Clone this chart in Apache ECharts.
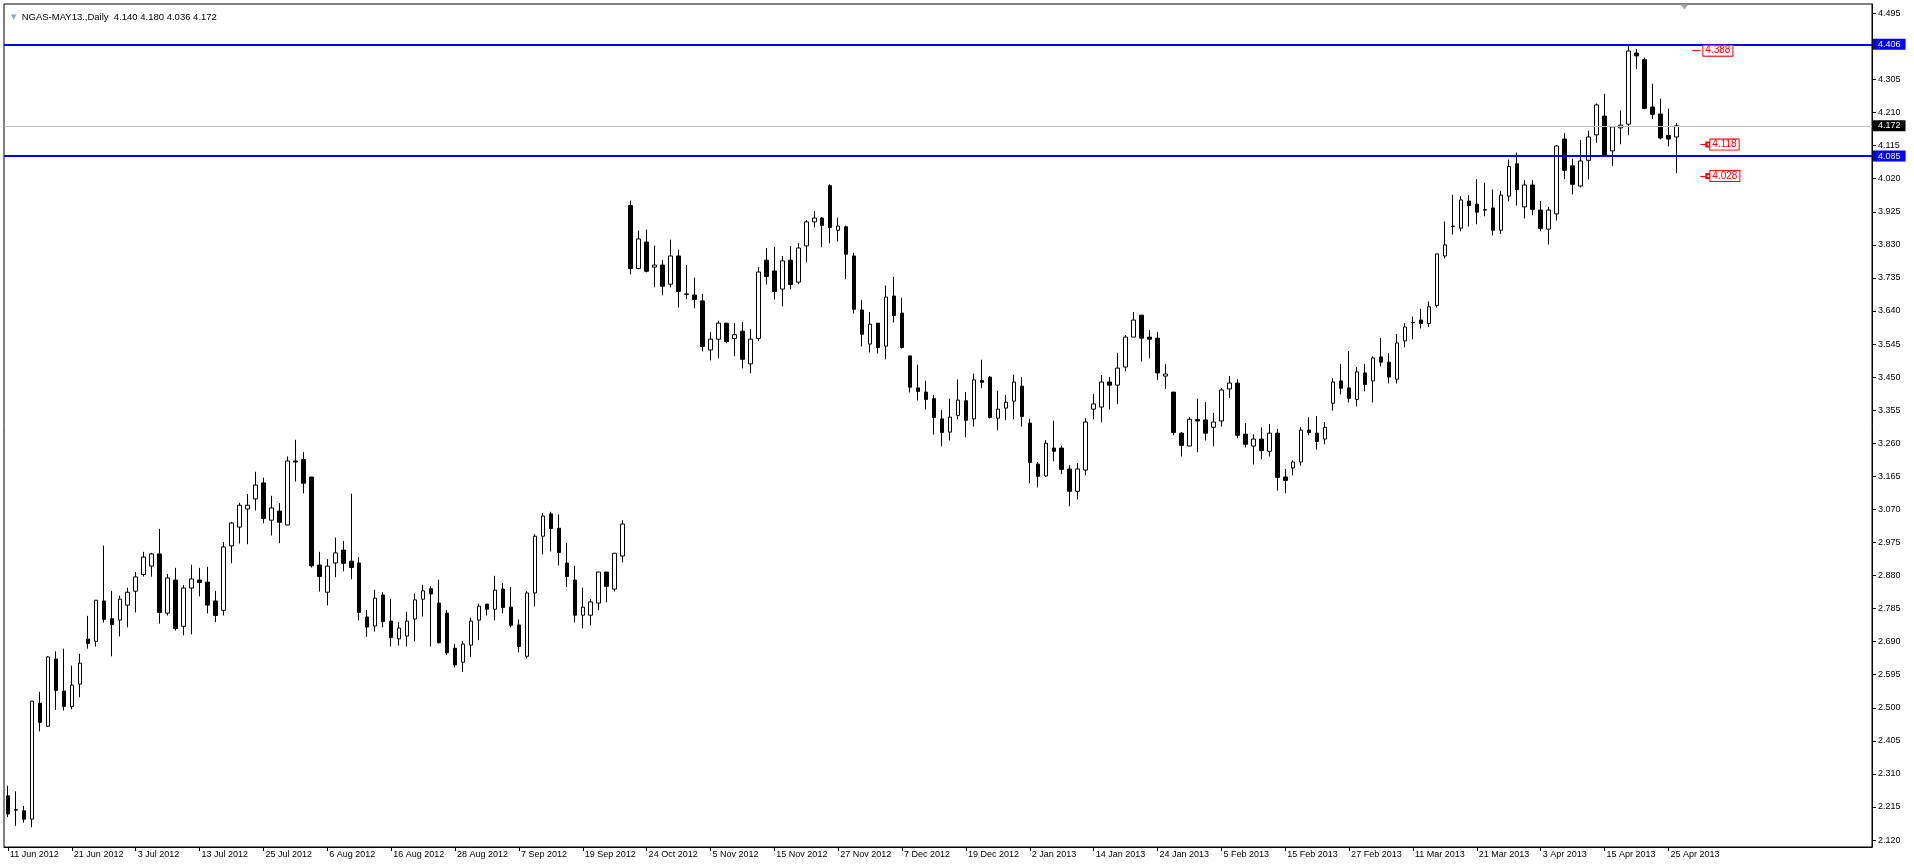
<!DOCTYPE html>
<html><head><meta charset="utf-8">
<script src="https://cdn.jsdelivr.net/npm/echarts@6/dist/echarts.min.js"></script>
<style>html,body{margin:0;padding:0;background:#fff;overflow:hidden}#c{width:1914px;height:867px}</style>
</head><body><div id="c"></div>
<script>
const symbolName = 'NGAS-MAY13.,Daily';
const dateLabels = ['11 Jun 2012','21 Jun 2012','3 Jul 2012','13 Jul 2012','25 Jul 2012','6 Aug 2012','16 Aug 2012','28 Aug 2012','7 Sep 2012','19 Sep 2012','24 Oct 2012','5 Nov 2012','15 Nov 2012','27 Nov 2012','7 Dec 2012','19 Dec 2012','2 Jan 2013','14 Jan 2013','24 Jan 2013','5 Feb 2013','15 Feb 2013','27 Feb 2013','11 Mar 2013','21 Mar 2013','3 Apr 2013','15 Apr 2013','25 Apr 2013'];
const barsPerLabel = 8;
const slotCount = 234;

const open = [
2.247,2.207,2.204,2.180,2.513,2.447,2.640,2.548,2.504,2.568,
2.697,2.691,2.807,2.756,2.752,2.795,2.835,2.883,2.907,2.942,
2.772,2.867,2.734,2.844,2.867,2.861,2.807,2.780,2.965,3.019,
3.071,3.100,3.146,3.039,3.065,3.025,3.209,3.213,3.163,2.910,
2.832,2.916,2.953,2.921,2.916,2.761,2.735,2.824,2.749,2.698,
2.706,2.755,2.812,2.842,2.801,2.772,2.671,2.631,2.680,2.752,
2.798,2.783,2.841,2.789,2.738,2.648,2.830,2.993,3.057,3.016,
2.916,2.867,2.766,2.766,2.801,2.890,2.841,2.936,3.943,3.762,
3.838,3.766,3.772,3.717,3.798,3.689,3.686,3.669,3.528,3.559,
3.605,3.561,3.582,3.488,3.561,3.786,3.755,3.703,3.786,3.723,
3.827,3.896,3.907,4.000,3.872,3.882,3.798,3.643,3.545,3.605,
3.539,3.683,3.634,3.511,3.419,3.407,3.388,3.330,3.292,3.340,
3.382,3.330,3.440,3.450,3.332,3.361,3.381,3.424,3.318,3.200,
3.166,3.246,3.246,3.186,3.122,3.183,3.358,3.364,3.436,3.427,
3.479,3.565,3.628,3.565,3.562,3.453,3.407,3.289,3.252,3.328,
3.327,3.306,3.324,3.416,3.433,3.286,3.252,3.272,3.237,3.289,
3.163,3.189,3.206,3.298,3.289,3.272,3.375,3.439,3.419,3.386,
3.462,3.439,3.508,3.493,3.444,3.554,3.607,3.614,3.604,3.656,
3.798,3.884,3.878,3.956,3.947,3.931,3.936,3.872,3.970,4.063,
3.939,4.002,3.930,3.875,3.919,4.134,4.057,3.999,4.073,4.146,
4.200,4.100,4.166,4.177,4.381,4.362,4.226,4.206,4.144,4.140];
const high = [
2.276,2.260,2.218,2.519,2.546,2.648,2.662,2.670,2.621,2.655,
2.764,2.809,2.966,2.836,2.822,2.845,2.890,2.948,2.945,3.014,
2.884,2.902,2.853,2.911,2.902,2.905,2.836,2.976,3.034,3.089,
3.114,3.178,3.161,3.109,3.088,3.222,3.270,3.235,3.163,2.948,
2.927,2.989,2.979,3.115,2.933,2.781,2.839,2.832,2.813,2.746,
2.776,2.828,2.853,2.849,2.868,2.781,2.683,2.692,2.759,2.799,
2.798,2.879,2.858,2.847,2.754,2.835,2.999,3.060,3.063,3.055,
2.974,2.908,2.845,2.812,2.890,2.890,2.944,3.039,3.957,3.871,
3.874,3.828,3.787,3.845,3.816,3.772,3.736,3.689,3.580,3.612,
3.605,3.605,3.608,3.588,3.766,3.821,3.824,3.798,3.827,3.835,
3.901,3.927,3.910,4.004,3.908,3.885,3.807,3.672,3.637,3.605,
3.713,3.738,3.678,3.511,3.486,3.440,3.399,3.356,3.388,3.443,
3.407,3.460,3.500,3.453,3.411,3.399,3.457,3.450,3.330,3.206,
3.269,3.325,3.253,3.197,3.203,3.332,3.402,3.456,3.450,3.520,
3.571,3.637,3.628,3.585,3.580,3.488,3.407,3.292,3.335,3.388,
3.378,3.347,3.419,3.453,3.444,3.318,3.286,3.306,3.315,3.301,
3.186,3.211,3.306,3.335,3.338,3.321,3.447,3.488,3.525,3.479,
3.488,3.510,3.562,3.519,3.574,3.605,3.624,3.646,3.667,3.804,
3.897,3.974,3.970,3.973,4.019,4.008,3.989,3.985,4.075,4.095,
4.016,4.016,3.956,3.939,4.117,4.151,4.077,4.131,4.158,4.236,
4.264,4.171,4.216,4.402,4.393,4.368,4.293,4.250,4.221,4.180];
const low = [
2.186,2.161,2.170,2.157,2.432,2.445,2.494,2.492,2.496,2.530,
2.670,2.676,2.745,2.648,2.705,2.731,2.774,2.877,2.877,2.742,
2.765,2.722,2.708,2.711,2.820,2.771,2.746,2.765,2.915,2.972,
2.970,3.067,3.030,2.995,2.973,3.025,3.150,3.116,2.903,2.834,
2.794,2.875,2.892,2.869,2.751,2.704,2.719,2.731,2.676,2.679,
2.676,2.691,2.762,2.676,2.685,2.652,2.616,2.603,2.646,2.695,
2.765,2.751,2.771,2.731,2.659,2.642,2.791,2.941,2.949,2.909,
2.847,2.745,2.728,2.737,2.780,2.803,2.834,2.918,3.745,3.760,
3.751,3.708,3.685,3.708,3.650,3.674,3.648,3.524,3.498,3.504,
3.547,3.510,3.475,3.461,3.553,3.716,3.673,3.653,3.702,3.717,
3.780,3.880,3.823,3.834,3.840,3.731,3.633,3.538,3.521,3.518,
3.501,3.607,3.532,3.406,3.383,3.357,3.285,3.251,3.268,3.329,
3.277,3.308,3.418,3.331,3.297,3.326,3.329,3.308,3.145,3.133,
3.163,3.208,3.171,3.079,3.099,3.168,3.329,3.320,3.357,3.372,
3.467,3.565,3.495,3.504,3.442,3.416,3.283,3.222,3.252,3.234,
3.268,3.251,3.308,3.390,3.274,3.248,3.199,3.214,3.222,3.124,
3.116,3.168,3.196,3.283,3.242,3.257,3.354,3.400,3.377,3.366,
3.409,3.377,3.481,3.432,3.432,3.536,3.559,3.590,3.594,3.650,
3.791,3.860,3.869,3.883,3.889,3.912,3.857,3.861,3.955,3.943,
3.906,3.915,3.869,3.831,3.900,4.019,3.975,3.995,4.018,4.123,
4.083,4.057,4.119,4.145,4.335,4.220,4.192,4.133,4.113,4.036];
const close = [
2.195,2.206,2.180,2.519,2.458,2.646,2.550,2.504,2.565,2.628,
2.685,2.809,2.754,2.739,2.812,2.832,2.876,2.933,2.942,2.774,
2.873,2.728,2.844,2.870,2.860,2.795,2.765,2.962,3.031,3.082,
3.082,3.140,3.044,3.074,3.033,3.209,3.206,3.145,2.908,2.877,
2.907,2.945,2.915,2.903,2.774,2.732,2.815,2.748,2.702,2.729,
2.749,2.810,2.836,2.827,2.687,2.658,2.623,2.683,2.749,2.792,
2.783,2.838,2.788,2.737,2.676,2.830,2.993,3.051,3.015,2.946,
2.877,2.766,2.789,2.804,2.890,2.849,2.944,3.028,3.762,3.847,
3.754,3.772,3.711,3.798,3.696,3.688,3.673,3.538,3.559,3.605,
3.552,3.572,3.501,3.559,3.752,3.739,3.696,3.784,3.716,3.821,
3.896,3.907,3.886,3.880,3.884,3.803,3.645,3.573,3.602,3.535,
3.680,3.627,3.535,3.421,3.409,3.386,3.334,3.291,3.335,3.384,
3.326,3.442,3.435,3.334,3.358,3.378,3.436,3.337,3.205,3.165,
3.260,3.237,3.185,3.122,3.186,3.321,3.373,3.436,3.427,3.476,
3.565,3.614,3.562,3.559,3.462,3.459,3.291,3.254,3.329,3.324,
3.289,3.321,3.413,3.433,3.283,3.257,3.272,3.239,3.289,3.162,
3.153,3.206,3.298,3.291,3.265,3.306,3.436,3.418,3.389,3.465,
3.429,3.505,3.493,3.450,3.548,3.594,3.606,3.604,3.652,3.804,
3.830,3.883,3.959,3.943,3.924,3.930,3.872,3.973,4.055,3.989,
4.002,3.932,3.877,3.930,4.114,4.044,4.004,4.071,4.140,4.232,
4.085,4.169,4.174,4.387,4.373,4.222,4.205,4.137,4.134,4.172];

const priceTicks = [4.495,4.400,4.305,4.210,4.115,4.020,3.925,3.830,3.735,3.640,3.545,3.450,3.355,3.260,3.165,3.070,2.975,2.880,2.785,2.690,2.595,2.500,2.405,2.310,2.215,2.120];
const priceTickLabels = [4.495,4.305,4.210,4.115,4.020,3.925,3.830,3.735,3.640,3.545,3.450,3.355,3.260,3.165,3.070,2.975,2.880,2.785,2.690,2.595,2.500,2.405,2.310,2.215,2.120];
const levelLines = [4.406, 4.085];
const lastPrice = 4.172;
const priceTags = [4.388, 4.118, 4.028];

const FONT = 'Liberation Sans, Arial, sans-serif';
const categories = Array.from({length: slotCount}, (_, i) => 'bar' + i);
const candles = open.map((o, i) => [o, close[i], low[i], high[i]]);
const lastIdx = open.length - 1;
const fmt = v => Number(v).toFixed(3);
const isLabelSlot = i => i % barsPerLabel === 0 && i / barsPerLabel < dateLabels.length;

const markLineData = [];
levelLines.forEach(v => markLineData.push({
  yAxis: v,
  lineStyle: {color: '#0000ff', width: 2, type: 'solid'},
  label: {show: true, position: 'end', formatter: fmt(v), color: '#fff', backgroundColor: '#0000ff',
    fontFamily: FONT, fontSize: 9, padding: [1, 5, 1, 5], distance: 1, lineHeight: 9}
}));
markLineData.push({
  yAxis: lastPrice,
  lineStyle: {color: '#c0c0c0', width: 1, type: 'solid'},
  label: {show: true, position: 'end', formatter: fmt(lastPrice), color: '#fff', backgroundColor: '#000',
    fontFamily: FONT, fontSize: 9, padding: [1, 5, 1, 5], distance: 1, lineHeight: 9}
});
const tagLabel = (v, dist) => ({show: true, position: 'end', formatter: fmt(v), color: '#ff0000',
  backgroundColor: '#fff', borderColor: '#ff0000', borderWidth: 1, padding: [0, 2, 0, 2],
  fontFamily: FONT, fontSize: 10, lineHeight: 10, distance: dist});
priceTags.forEach((v, k) => {
  const x0 = k === 0 ? lastIdx + 2 : lastIdx + 3;
  markLineData.push([
    {coord: [x0, v], symbol: 'none'},
    {coord: [x0 + 1, v], symbol: k === 0 ? 'none' : 'emptyRect', symbolSize: 4,
     lineStyle: {color: '#ff0000', width: 1, type: 'solid'},
     label: tagLabel(v, k === 0 ? 3 : 2)}
  ]);
});

const chart = echarts.init(document.getElementById('c'), null, {renderer: 'canvas'});
chart.setOption({
  animation: false,
  backgroundColor: '#fff',
  title: {
    text: '{tri|▼}  ' + symbolName + '  ' + [open[lastIdx], high[lastIdx], low[lastIdx], close[lastIdx]].map(fmt).join(' '),
    left: 6, top: 7,
    textStyle: {fontFamily: FONT, fontSize: 9.5, fontWeight: 'normal', color: '#000',
      rich: {tri: {fontSize: 7, color: '#8aa8cc', fontFamily: 'DejaVu Sans'}}}
  },
  grid: {left: 4, right: 42, top: 4, bottom: 20, show: true, borderColor: '#000', borderWidth: 1,
    backgroundColor: '#fff', containLabel: false, outerBoundsMode: 'none'},
  xAxis: {
    type: 'category', data: categories, boundaryGap: true,
    axisLine: {show: true, lineStyle: {color: '#000', width: 1}},
    axisTick: {show: true, interval: i => isLabelSlot(i), alignWithLabel: true, length: 4, lineStyle: {color: '#000'}},
    axisLabel: {show: true, interval: i => isLabelSlot(i), hideOverlap: false, align: 'left', margin: 3,
      padding: [0, 0, 0, 2],
      fontFamily: FONT, fontSize: 9, color: '#000',
      formatter: (v, i) => isLabelSlot(i) ? dateLabels[i / barsPerLabel] : ''},
    splitLine: {show: false}
  },
  yAxis: {
    type: 'value', position: 'right', min: 2.100, max: 4.522, scale: true,
    axisLine: {show: true, lineStyle: {color: '#000', width: 1}},
    axisTick: {show: true, length: 4, customValues: priceTicks, lineStyle: {color: '#000'}},
    axisLabel: {show: true, customValues: priceTickLabels, formatter: fmt, margin: 6, hideOverlap: false,
      fontFamily: FONT, fontSize: 9, color: '#000'},
    splitLine: {show: false}
  },
  series: [{
    type: 'candlestick',
    data: candles,
    barWidth: 4,
    clip: true,
    large: false,
    emphasis: {disabled: true},
    silent: true,
    itemStyle: {color: '#fff', color0: '#000', borderColor: '#000', borderColor0: '#000',
      borderColorDoji: '#000', borderWidth: 1},
    markLine: {silent: true, symbol: 'none', animation: false, precision: 3, data: markLineData},
    markPoint: {silent: true, animation: false,
      data: [{coord: [lastIdx + 1, 4.522], symbol: 'triangle', symbolRotate: 180, symbolSize: [8, 5],
        symbolOffset: [0, 3], itemStyle: {color: '#a8a8a8'}, label: {show: false}}]}
  }]
});
</script></body></html>
